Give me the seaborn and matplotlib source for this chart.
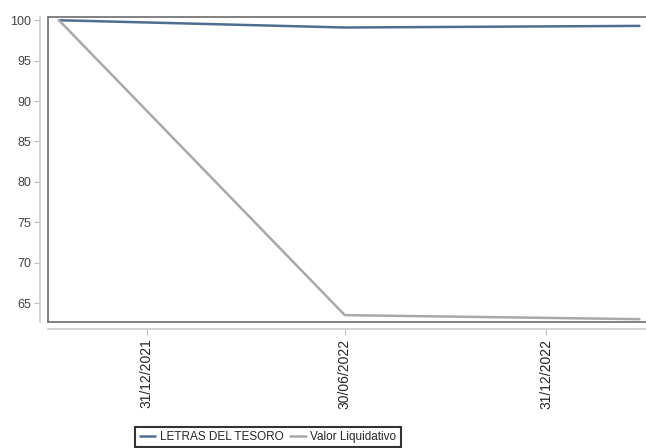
import matplotlib
matplotlib.use("Agg")
import matplotlib.pyplot as plt
from matplotlib.lines import Line2D
import seaborn as sns
import pandas as pd

dates = ["2021-10-12", "2022-06-30", "2023-03-26"]
letras = [100.0, 99.1, 99.3]
valor = [100.0, 63.5, 63.0]
tick_dates = ["2021-12-31", "2022-06-30", "2022-12-31"]
tick_labels = ["31/12/2021", "30/06/2022", "31/12/2022"]
series_names = ["LETRAS DEL TESORO", "Valor Liquidativo"]
colors = ["#4d6e8f", "#a9a9a9"]

sns.set_style("white")
plt.rcParams["font.family"] = ["Liberation Sans", "DejaVu Sans"]

df = pd.DataFrame({
    "fecha": pd.to_datetime(dates * 2),
    "valor": letras + valor,
    "serie": [series_names[0]] * len(dates) + [series_names[1]] * len(dates),
})

fig = plt.figure(figsize=(6.46, 4.48), dpi=100)
ax = fig.add_axes([48 / 646, 1 - 322 / 448, (646 - 48) / 646, (322 - 17) / 448])

sns.lineplot(data=df, x="fecha", y="valor", hue="serie", palette=colors,
             linewidth=1.8, ax=ax, legend=False)

ax.set_xlim(pd.Timestamp("2021-10-02"), pd.Timestamp("2023-04-01"))
ax.set_ylim(62.65, 100.4)
ax.set_yticks([65, 70, 75, 80, 85, 90, 95, 100])
ax.set_xticks(pd.to_datetime(tick_dates))
ax.set_xticklabels(tick_labels, fontsize=12, color="black")
ax.tick_params(axis="x", labelrotation=90)
ax.tick_params(axis="y", labelsize=9, labelcolor="#444444", length=4,
               width=0.8, color="#bbbbbb", left=True, pad=2)
ax.tick_params(axis="x", length=4, width=0.8, color="#bbbbbb", bottom=True, pad=3)
ax.set_xlabel("")
ax.set_ylabel("")

for s in ["top", "right"]:
    ax.spines[s].set_visible(False)
ax.spines["left"].set_position(("outward", 6))
ax.spines["bottom"].set_position(("outward", 5))
for s in ["left", "bottom"]:
    ax.spines[s].set_color("#cccccc")
    ax.spines[s].set_linewidth(1.2)

frame_kw = dict(transform=ax.transAxes, color="#777777", linewidth=1.3,
                clip_on=False, zorder=5)
ax.add_line(Line2D([0, 1], [1, 1], **frame_kw))
ax.add_line(Line2D([0, 1], [0, 0], **frame_kw))
ax.add_line(Line2D([0, 0], [0, 1], **frame_kw))

handles = [Line2D([], [], color=c, linewidth=1.8) for c in colors]
leg = fig.legend(handles, series_names, loc="center", ncol=2,
                 bbox_to_anchor=(268 / 646, 11 / 448), frameon=True,
                 fancybox=False, edgecolor="black", handlelength=1.3,
                 handletextpad=0.4, columnspacing=0.6, borderpad=0.35,
                 prop={"size": 8.5})
leg.get_frame().set_linewidth(1.5)

fig.savefig("out.png", dpi=100)
